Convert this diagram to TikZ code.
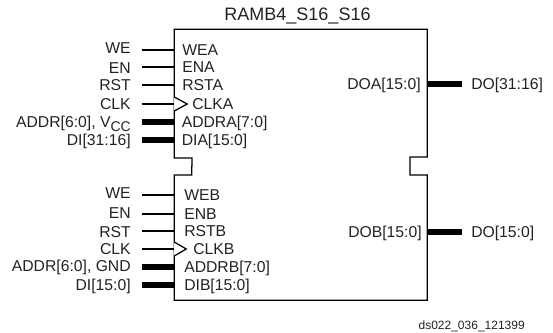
\documentclass[tikz,border=0pt]{standalone}
\usepackage{fontspec}
\setmainfont{Liberation Sans}
\definecolor{ink}{HTML}{222222}
\begin{document}
\begin{tikzpicture}[
  x=0.75pt, y=-0.75pt,
  pinlbl/.style={inner sep=0pt, text=ink, font=\fontsize{11.8}{14}\selectfont, text height=8.4pt, text depth=0pt},
  extpin/.style={pinlbl, anchor=east},
  intpin/.style={pinlbl, anchor=west},
  outline/.style={line width=0.95pt, draw=black},
  sig/.style={line width=0.8pt, draw=black},
  bus/.style={line width=3.8pt, draw=black},
]
\useasboundingbox (0,0) rectangle (553,332);

% ===== block body =====
\node[minimum width=252.5*0.75pt, minimum height=270.5*0.75pt, inner sep=0pt] (ram) at (300.75,164.75) {};
\node[pinlbl, font=\fontsize{13.5}{16}\selectfont] (title) at (297.5,15) {RAMB4\_S16\_S16};
\coordinate (notchl) at (192,158);
\coordinate (notchr) at (410,157);
\draw[outline] (ram.north west) -- (ram.north east) -- (ram.east|-notchr) -- (notchr) -- ++(0,18)
  -- (ram.east|-0,175) -- (ram.south east) -- (ram.south west) -- (ram.west|-0,175) -- ++(17.5,0)
  -- (notchl) -- (ram.west|-notchl) -- cycle;

% ===== port A, inside =====
\node[intpin] (wea) at (182,50) {WEA};
\node[intpin] (ena) at (182,67) {ENA};
\node[intpin] (rsta) at (182,85) {RSTA};
\node[intpin] (clka) at (192,104) {CLKA};
\node[intpin] (addra) at (181.5,122) {ADDRA[7:0]};
\node[intpin] (dia) at (181.5,140) {DIA[15:0]};
\node[pinlbl, anchor=east] (doa) at (421,84) {DOA[15:0]};

% ===== port A, outside =====
\node[extpin] (we1) at (131,48) {WE};
\node[extpin] (en1) at (131,68) {EN};
\node[extpin] (rst1) at (131,85) {RST};
\node[extpin] (clk1) at (131,104) {CLK};
\node[extpin] (addr1) at (131,122) {ADDR[6:0], V\raisebox{-3pt}{\fontsize{10.5}{12}\selectfont CC}};
\node[extpin] (di1) at (131,140) {DI[31:16]};
\node[intpin] (do1) at (471,84) {DO[31:16]};

% ===== port B, inside =====
\node[intpin] (web) at (184,195) {WEB};
\node[intpin] (enb) at (184,214) {ENB};
\node[intpin] (rstb) at (184,231) {RSTB};
\node[intpin] (clkb) at (193,249) {CLKB};
\node[intpin] (addrb) at (184,267) {ADDRB[7:0]};
\node[intpin] (dib) at (184,285) {DIB[15:0]};
\node[pinlbl, anchor=east] (dob) at (422,232) {DOB[15:0]};

% ===== port B, outside =====
\node[extpin] (we2) at (131,193) {WE};
\node[extpin] (en2) at (131,213) {EN};
\node[extpin] (rst2) at (131,232) {RST};
\node[extpin] (clk2) at (131,249) {CLK};
\node[extpin] (addr2) at (131,266) {ADDR[6:0], GND};
\node[extpin] (di2) at (131,285) {DI[15:0]};
\node[intpin] (do2) at (471,232) {DO[15:0]};

% ===== wires =====
\coordinate (wirel) at (141.5,0);
\coordinate (wirer) at (462,0);
\draw[sig] (wirel|-wea.west) -- (ram.west|-wea.west);
\draw[sig] (wirel|-ena.west) -- (ram.west|-ena.west);
\draw[sig] (wirel|-rsta.west) -- (ram.west|-rsta.west);
\draw[sig] (wirel|-clka.west) -- (ram.west|-clka.west);
\draw[bus] (wirel|-addra.west) -- (ram.west|-addra.west);
\draw[bus] (wirel|-dia.west) -- (ram.west|-dia.west);
\draw[bus] (ram.east|-doa.east) -- (wirer|-doa.east);
\draw[sig] (wirel|-web.west) -- (ram.west|-web.west);
\draw[sig] (wirel|-enb.west) -- (ram.west|-enb.west);
\draw[sig] (wirel|-rstb.west) -- (ram.west|-rstb.west);
\draw[sig] (wirel|-clkb.west) -- (ram.west|-clkb.west);
\draw[bus] (wirel|-addrb.west) -- (ram.west|-addrb.west);
\draw[bus] (wirel|-dib.west) -- (ram.west|-dib.west);
\draw[bus] (ram.east|-dob.east) -- (wirer|-dob.east);

% clock wedges
\draw[outline, fill=white] (ram.west|-clka.west) ++(0,-7) -- ++(13,7) -- ++(-13,7);
\draw[outline, fill=white] (ram.west|-clkb.west) ++(0,-7) -- ++(12,7) -- ++(-12,7);

% drawing number
\node[pinlbl, font=\fontsize{9}{11}\selectfont, text height=6.5pt, anchor=east] (dsnum) at (525,325.5) {ds022\_036\_121399};
\end{tikzpicture}
\end{document}
